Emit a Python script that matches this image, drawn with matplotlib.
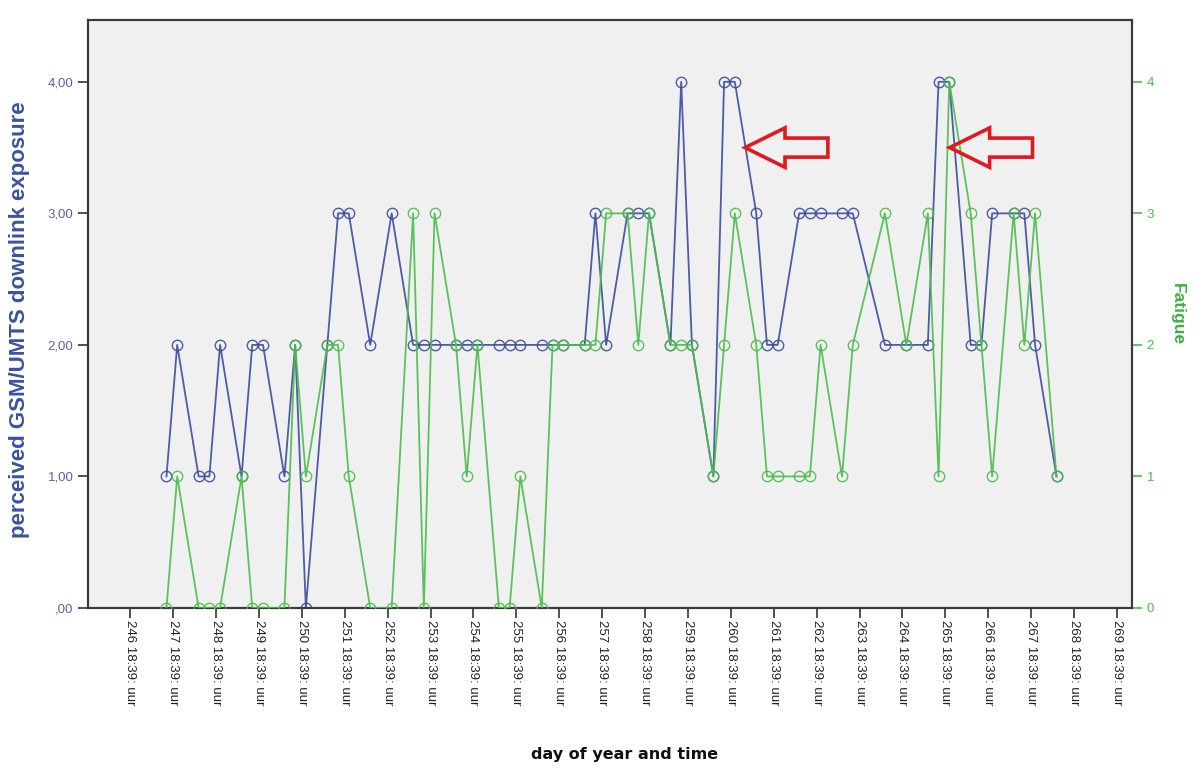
import matplotlib
matplotlib.use("Agg")
import matplotlib.pyplot as plt
from matplotlib.patches import FancyArrow
from matplotlib.ticker import FuncFormatter

# time of each measurement as day of year (fraction = time of day)
day = [247.62, 247.87, 248.37, 248.62, 248.87, 249.37, 249.62, 249.87,
       250.37, 250.62, 250.87, 251.37, 251.62, 251.87, 252.37, 252.87,
       253.37, 253.62, 253.87, 254.37, 254.62, 254.87, 255.37, 255.62,
       255.87, 256.37, 256.62, 256.87, 257.37, 257.62, 257.87, 258.37,
       258.62, 258.87, 259.37, 259.62, 259.87, 260.37, 260.62, 260.87,
       261.37, 261.62, 261.87, 262.37, 262.62, 262.87, 263.37, 263.62,
       264.37, 264.87, 265.37, 265.62, 265.87, 266.37, 266.62, 266.87,
       267.37, 267.62, 267.87, 268.37]

exposure = [1, 2, 1, 1, 2, 1, 2, 2, 1, 2, 0, 2, 3, 3, 2, 3,
            2, 2, 2, 2, 2, 2, 2, 2, 2, 2, 2, 2, 2, 3, 2, 3,
            3, 3, 2, 4, 2, 1, 4, 4, 3, 2, 2, 3, 3, 3, 3, 3,
            2, 2, 2, 4, 4, 2, 2, 3, 3, 3, 2, 1]

fatigue = [0, 1, 0, 0, 0, 1, 0, 0, 0, 2, 1, 2, 2, 1, 0, 0,
           3, 0, 3, 2, 1, 2, 0, 0, 1, 0, 2, 2, 2, 2, 3, 3,
           2, 3, 2, 2, 2, 1, 2, 3, 2, 1, 1, 1, 1, 2, 1, 2,
           3, 2, 3, 1, 4, 3, 2, 1, 3, 2, 3, 1]

tick_days = list(range(246, 270))
tick_time = 18 / 24 + 39 / 1440   # 18:39
arrow_tips = [261.11, 265.88]

blue = "#3c4b9e"
green = "#4cbc4c"

fig = plt.figure(figsize=(11.97, 7.69), dpi=100)
ax = fig.add_axes([0.0735, 0.2094, 0.8722, 0.7646])
ax.set_facecolor("#f0f0f0")

ax.plot(day, exposure, color=blue, lw=1.3, marker="o", ms=7.5,
        mfc="none", mec=blue, mew=1.0, alpha=0.9, zorder=3)
ax.set_ylim(0, 4.47)
ax.set_yticks([0, 1, 2, 3, 4])
ax.yaxis.set_major_formatter(FuncFormatter(
    lambda v, p: ("%.2f" % v).replace("0.", ".").replace(".", ",")))
ax.set_xlim(245.79, 270.13)
ax.set_xticks([d + tick_time for d in tick_days])
ax.set_xticklabels(["%d 18:39: uur" % d for d in tick_days],
                   rotation=270, fontsize=9.5, family="Liberation Sans",
                   color="#222222")
ax.tick_params(axis="x", direction="out", length=7, width=1.2, color="#333333", pad=2)
ax.tick_params(axis="y", direction="out", length=7, width=1.2, color="#333333",
               labelsize=9.5, labelcolor="#5a6496")
for lab in ax.get_yticklabels():
    lab.set_family("Liberation Sans")
for s in ax.spines.values():
    s.set_color("#3a3a3a")
    s.set_linewidth(1.5)

ax.set_ylabel("perceived GSM/UMTS downlink exposure", fontsize=16,
              fontweight="bold", color="#3b52a4", family="Liberation Sans")
ax.yaxis.set_label_coords(-0.056, 0.49)
ax.set_xlabel("day of year and time", fontsize=11.5, fontweight="bold",
              color="#111111", family="DejaVu Sans")
ax.xaxis.set_label_coords(0.514, -0.236)

ax2 = ax.twinx()
ax2.plot(day, fatigue, color=green, lw=1.3, marker="o", ms=7.5,
         mfc="none", mec=green, mew=1.0, alpha=0.9, zorder=3)
ax2.set_ylim(0, 4.47)
ax2.set_yticks([0, 1, 2, 3, 4])
ax2.tick_params(axis="y", direction="out", length=7, width=1.2, color=green,
                labelsize=9.5, labelcolor=green)
for lab in ax2.get_yticklabels():
    lab.set_family("Liberation Sans")
for s in ax2.spines.values():
    s.set_color("#3a3a3a")
    s.set_linewidth(1.5)
ax2.set_ylabel("Fatigue", fontsize=12.5, fontweight="bold", color="#3cb043",
               rotation=270, labelpad=22, family="Liberation Sans")

# red outline arrows
for tip in arrow_tips:
    arr = FancyArrow(tip + 1.93, 3.5, -1.93, 0, width=0.145, head_width=0.30,
                     head_length=0.93, length_includes_head=True,
                     fill=False, edgecolor="#e0191f", linewidth=2.6, zorder=5)
    ax2.add_patch(arr)

fig.savefig("out.png", dpi=100)
